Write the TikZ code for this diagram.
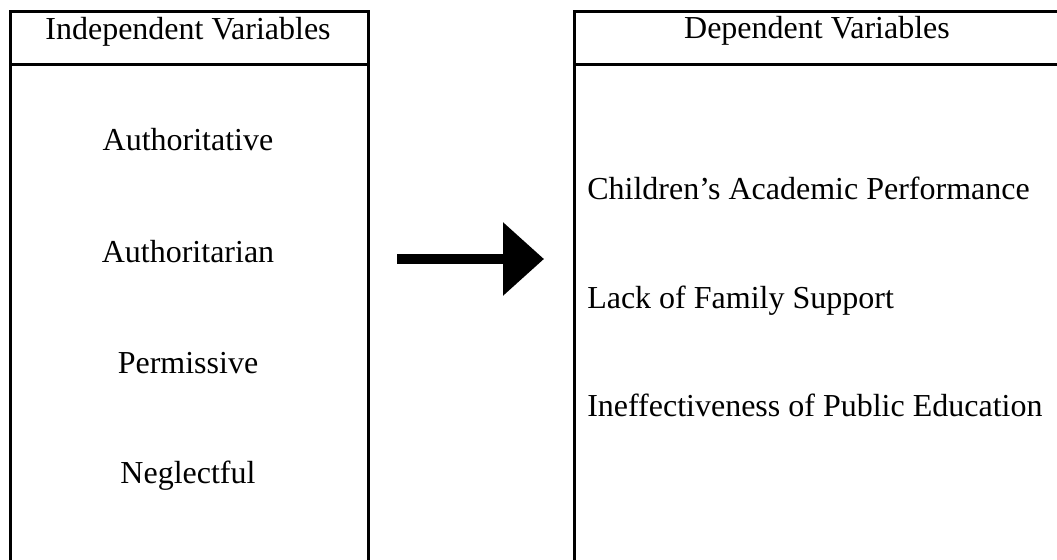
\documentclass[tikz,border=0pt]{standalone}
\usepackage{fontspec}
\setmainfont{Liberation Serif}
\usetikzlibrary{arrows.meta}
\begin{document}
\begin{tikzpicture}[x=0.75pt,y=-0.75pt,
  box/.style={draw=black, line width=2.25pt, rectangle, inner sep=0pt, anchor=north west},
  label/.style={inner sep=0pt, font=\fontsize{24}{28}\selectfont},
  bigarrow/.style={line width=7.5pt, -{Triangle[length=30.75pt, width=53.25pt]}}]
\clip (0,0) rectangle (1057,560);
\fill[white] (0,0) rectangle (1057,560);
% boxes
\node[box, minimum width=268.5pt, minimum height=450pt] (lbox) at (9,10) {};
\node[box, minimum width=365pt, minimum height=450pt] (rbox) at (573,10) {};
\draw[line width=2.25pt] (lbox.west |- 0,65) -- (lbox.east |- 0,65);
\draw[line width=2.25pt] (rbox.west |- 0,65) -- (rbox.east |- 0,65);
% headers
\node[label, anchor=base] (lhead) at (188,40) {Independent Variables};
\node[label, anchor=base] (rhead) at (817,39) {Dependent Variables};
% independent items
\node[label, anchor=base] (i1) at (188,151) {Authoritative};
\node[label, anchor=base] (i2) at (188,262) {Authoritarian};
\node[label, anchor=base] (i3) at (188,373) {Permissive};
\node[label, anchor=base] (i4) at (188,483) {Neglectful};
% dependent items
\node[label, anchor=base west] (d1) at (587,199) {Children’s Academic Performance};
\node[label, anchor=base west] (d2) at (587,308) {Lack of Family Support};
\node[label, anchor=base west] (d3) at (587,416) {Ineffectiveness of Public Education};
% arrow
\coordinate (astart) at (397,259);
\coordinate (aend) at (544,259);
\draw[bigarrow] (astart) -- (aend);
\end{tikzpicture}
\end{document}
